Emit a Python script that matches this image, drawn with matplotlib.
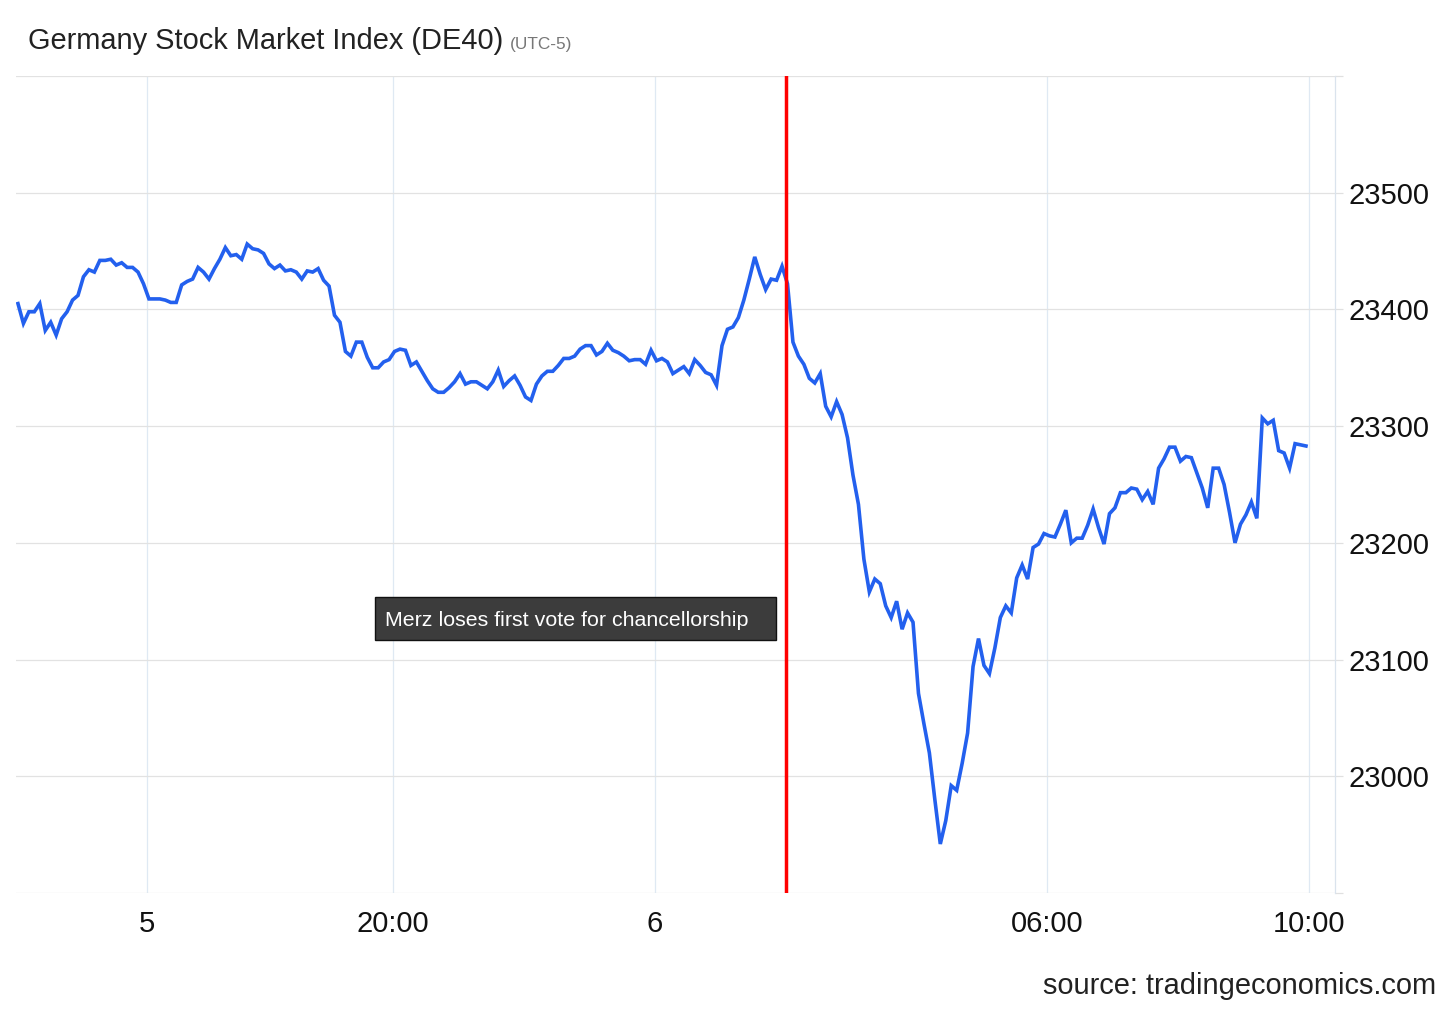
import numpy as np
import matplotlib
matplotlib.use("Agg")
import matplotlib.pyplot as plt
from matplotlib.patches import Rectangle

plt.rcParams['font.family'] = ['Liberation Sans', 'DejaVu Sans']

# DE40 quotes, one every 5 minutes (session hours, UTC-5)
prices = [
    23405, 23388, 23398, 23398, 23405, 23382, 23389, 23378, 23392, 23398,
    23408, 23412, 23428, 23434, 23432, 23442, 23442, 23443, 23438, 23440,
    23436, 23436, 23432, 23422, 23409, 23409, 23409, 23408, 23406, 23406,
    23421, 23424, 23426, 23436, 23432, 23426, 23435, 23443, 23453, 23446,
    23447, 23443, 23456, 23452, 23451, 23448, 23439, 23435, 23438, 23433,
    23434, 23432, 23426, 23433, 23432, 23435, 23425, 23420, 23395, 23389,
    23364, 23360, 23372, 23372, 23359, 23350, 23350, 23355, 23357, 23364,
    23366, 23365, 23352, 23355, 23347, 23339, 23332, 23329, 23329, 23333,
    23338, 23345, 23336, 23338, 23338, 23335, 23332, 23338, 23348, 23334,
    23339, 23343, 23335, 23325, 23322, 23336, 23343, 23347, 23347, 23352,
    23358, 23358, 23360, 23366, 23369, 23369, 23361, 23364, 23371, 23365,
    23363, 23360, 23356, 23357, 23357, 23353, 23365, 23356, 23358, 23355,
    23345, 23348, 23351, 23345, 23357, 23352, 23346, 23344, 23335, 23369,
    23383, 23385, 23393, 23408, 23426, 23445, 23430, 23417, 23426, 23425,
    23437, 23422, 23372, 23360, 23353, 23341, 23337, 23345, 23317, 23308,
    23321, 23310, 23290, 23258, 23233, 23186, 23158, 23169, 23165, 23146,
    23136, 23150, 23126, 23140, 23132, 23071, 23045, 23020, 22980, 22942,
    22962, 22992, 22988, 23011, 23037, 23094, 23118, 23095, 23088, 23110,
    23136, 23146, 23140, 23170, 23181, 23169, 23196, 23199, 23208, 23206,
    23205, 23216, 23228, 23200, 23204, 23204, 23215, 23229, 23213, 23199,
    23225, 23230, 23243, 23243, 23247, 23246, 23237, 23244, 23233, 23264,
    23272, 23282, 23282, 23270, 23274, 23273, 23260, 23247, 23230, 23264,
    23264, 23250, 23226, 23200, 23216, 23224, 23235, 23221, 23307, 23302,
    23305, 23279, 23277, 23264, 23285, 23284, 23283,
]
start_hour = -1.97           # hours before the "5" label on the session axis
step_hours = 5 / 60

tick_hours = [0, 3.75, 7.75, 13.75, 17.75]
tick_labels = ['5', '20:00', '6', '06:00', '10:00']
y_ticks = [22900, 23000, 23100, 23200, 23300, 23400, 23500, 23600]

event_hour = 9.75
event_text = 'Merz loses first vote for chancellorship'

hours = start_hour + step_hours * np.arange(len(prices))

fig = plt.figure(figsize=(14.56, 10.09), dpi=100)
ax = fig.add_axes([16 / 1456, 116 / 1009, (1335 - 16) / 1456, (893 - 76) / 1009])

ax.plot(hours, prices, color='#2360ee', lw=2.6, solid_joinstyle='miter', zorder=3)
ax.axvline(event_hour, color='#ff0000', lw=2.5, zorder=4)

# annotation box, left of the event line
box_right = event_hour - 0.15
box_left = box_right - 6.12
ax.add_patch(Rectangle((box_left, 23117), box_right - box_left, 37,
                       facecolor='#3c3c3c', edgecolor='#111111', lw=1.0, zorder=5))
ax.text(box_left + 0.15, 23133.5, event_text, color='white', fontsize=15.4,
        va='center', ha='left', zorder=6)

ax.set_xlim(-2.0, 18.14)
ax.set_ylim(22900, 23600)
ax.set_xticks(tick_hours)
ax.set_xticklabels(tick_labels)
ax.set_yticks(y_ticks)
ax.set_yticklabels(['' if v in (22900, 23600) else str(v) for v in y_ticks])

ax.yaxis.tick_right()
ax.tick_params(axis='y', which='both', length=5.5, width=0.9, color='#e0e0e0',
               labelsize=21, pad=4, labelcolor='#111111')
ax.tick_params(axis='x', length=0, labelsize=21, pad=12, labelcolor='#111111')

ax.grid(axis='y', color='#e2e2e2', lw=0.9)
ax.grid(axis='x', color='#dfe9f3', lw=0.9)
ax.set_axisbelow(True)
for side in ['top', 'left', 'bottom']:
    ax.spines[side].set_visible(False)
ax.spines['right'].set_color('#dae3ed')
ax.spines['right'].set_linewidth(0.9)

fig.text(28 / 1456, 1 - 49 / 1009, 'Germany Stock Market Index (DE40)',
         fontsize=20.9, color='#222222', va='baseline', ha='left')
fig.text(510 / 1456, 1 - 49 / 1009, '(UTC-5)', fontsize=12.4, color='#777777',
         va='baseline', ha='left')
fig.text(1436 / 1456, 1 - 986 / 1009, 'source: tradingeconomics.com',
         fontsize=20.9, color='#222222', va='center', ha='right')

fig.savefig('out.png', dpi=100, facecolor='white')
